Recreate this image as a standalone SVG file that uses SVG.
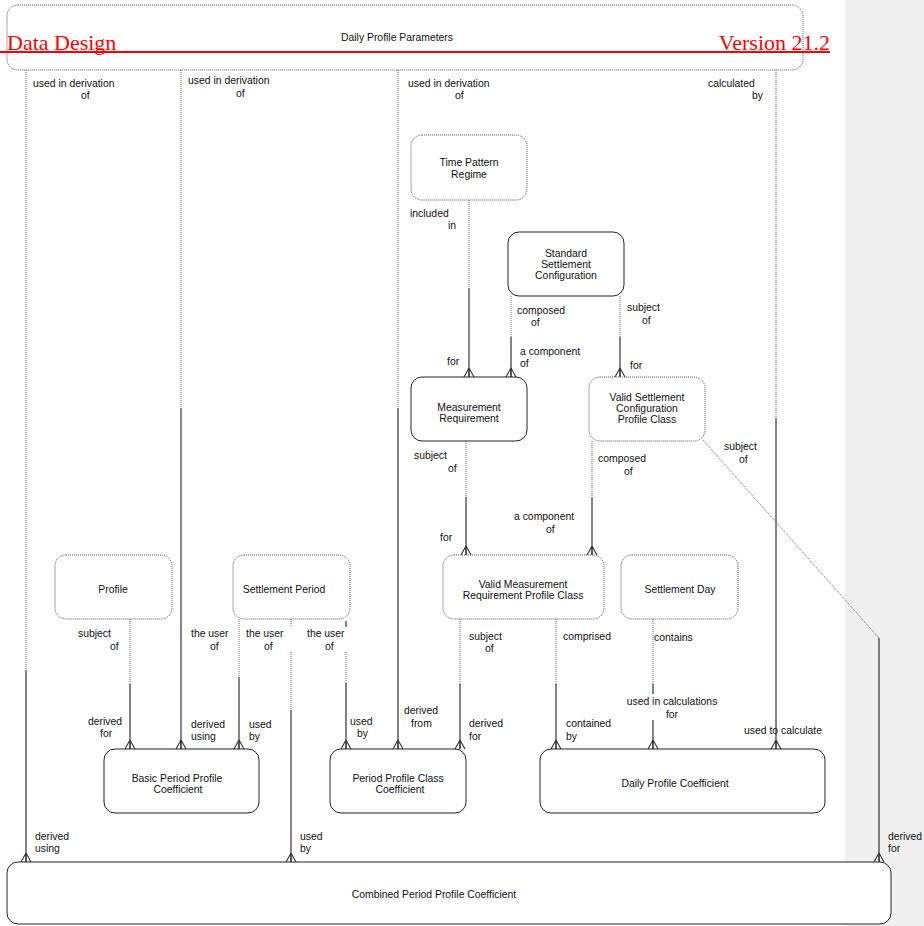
<svg xmlns="http://www.w3.org/2000/svg" width="924" height="926" viewBox="0 0 924 926">
<style>
text{font-family:"Liberation Sans",Arial,sans-serif;font-size:10.4px;fill:#111}
.c{text-anchor:middle}
.box{fill:#fff;stroke:#222;stroke-width:1}
.opt{fill:#fff;stroke:#555;stroke-width:1;stroke-dasharray:1 1}
.dot{fill:none;stroke:#666;stroke-width:1;stroke-dasharray:1 1}
.sol{fill:none;stroke:#333;stroke-width:1.2}
.hdr{font-family:"Liberation Serif","Times New Roman",serif;font-size:22px;fill:#f00}
</style>
<defs>
<marker id="crow" markerUnits="userSpaceOnUse" viewBox="-1 -7 12 14" markerWidth="12" markerHeight="14" refX="9" refY="0" orient="auto">
<path d="M0,0L9,-5M0,0L9,5M0,0L9,0" fill="none" stroke="#333" stroke-width="1.1"/>
</marker>
</defs>
<rect x="845" y="0" width="79" height="926" fill="#f0f0f0"/>

<g id="connectors">
<g id="c1"><path class="dot" d="M26,70V670"/><path class="sol" d="M26,670V862" marker-end="url(#crow)"/></g>
<g id="c2"><path class="dot" d="M181,70V408"/><path class="sol" d="M181,408V749" marker-end="url(#crow)"/></g>
<g id="c3"><path class="dot" d="M398,70V408"/><path class="sol" d="M398,408V749" marker-end="url(#crow)"/></g>
<g id="c4"><path class="dot" d="M776,70V418"/><path class="sol" d="M776,418V749" marker-end="url(#crow)"/></g>
<g id="c5"><path class="dot" d="M469,200V288"/><path class="sol" d="M469,288V377" marker-end="url(#crow)"/></g>
<g id="c6"><path class="dot" d="M511,296V337"/><path class="sol" d="M511,337V377" marker-end="url(#crow)"/></g>
<g id="c7"><path class="dot" d="M620,296V337"/><path class="sol" d="M620,337V377" marker-end="url(#crow)"/></g>
<g id="c8"><path class="dot" d="M466,441V497"/><path class="sol" d="M466,497V555" marker-end="url(#crow)"/></g>
<g id="c9"><path class="dot" d="M592,441V497"/><path class="sol" d="M592,497V555" marker-end="url(#crow)"/></g>
<g id="c10"><path class="dot" d="M703,440L879,638"/><path class="sol" d="M879,638V862" marker-end="url(#crow)"/></g>
<g id="c11"><path class="dot" d="M130,619V684"/><path class="sol" d="M130,684V749" marker-end="url(#crow)"/></g>
<g id="c12"><path class="dot" d="M239,619V677"/><path class="sol" d="M239,677V749" marker-end="url(#crow)"/></g>
<g id="c13"><path class="dot" d="M291,619V627M291,652V710"/><path class="sol" d="M291,710V862" marker-end="url(#crow)"/></g>
<g id="c14"><path class="sol" d="M346,621V627"/><path class="dot" d="M346,652V683"/><path class="sol" d="M346,683V749" marker-end="url(#crow)"/></g>
<g id="c15"><path class="dot" d="M460,619V684"/><path class="sol" d="M460,684V749" marker-end="url(#crow)"/></g>
<g id="c16"><path class="dot" d="M556,619V684"/><path class="sol" d="M556,684V749" marker-end="url(#crow)"/></g>
<g id="c17"><path class="dot" d="M653,619V684"/><path class="sol" d="M653,684V694M653,720V749" marker-end="url(#crow)"/></g>
</g>

<g id="labels">
<text x="33" y="87">used in derivation</text><text x="81" y="99">of</text>
<text x="188" y="84">used in derivation</text><text x="236" y="97">of</text>
<text x="408" y="87">used in derivation</text><text x="455" y="99">of</text>
<text x="708" y="87">calculated</text><text x="752" y="99">by</text>
<text x="410" y="217">included</text><text x="448" y="229">in</text>
<text x="517" y="314">composed</text><text x="531" y="326">of</text>
<text x="627" y="311">subject</text><text x="642" y="324">of</text>
<text x="520" y="355">a component</text><text x="520" y="367">of</text>
<text x="447" y="365">for</text>
<text x="630" y="369">for</text>
<text x="414" y="459">subject</text><text x="448" y="472">of</text>
<text x="598" y="462">composed</text><text x="624" y="475">of</text>
<text x="514" y="520">a component</text><text x="546" y="533">of</text>
<text x="440" y="541">for</text>
<text x="724" y="450">subject</text><text x="739" y="463">of</text>
<text x="78" y="637">subject</text><text x="110" y="650">of</text>
<text x="88" y="725">derived</text><text x="100" y="737">for</text>
<text x="191" y="637">the user</text><text x="210" y="650">of</text>
<text x="191" y="728">derived</text><text x="191" y="740">using</text>
<text x="246" y="637">the user</text><text x="264" y="650">of</text>
<text x="249" y="728">used</text><text x="249" y="740">by</text>
<text x="307" y="637">the user</text><text x="325" y="650">of</text>
<text x="350" y="725">used</text><text x="357" y="737">by</text>
<text x="404" y="714">derived</text><text x="411" y="727">from</text>
<text x="469" y="640">subject</text><text x="485" y="652">of</text>
<text x="469" y="727">derived</text><text x="469" y="740">for</text>
<text x="563" y="640">comprised</text>
<text x="566" y="727">contained</text><text x="566" y="740">by</text>
<text x="654" y="641">contains</text>
<text class="c" x="672" y="705">used in calculations</text><text class="c" x="672" y="718">for</text>
<text x="744" y="734">used to calculate</text>
<text x="35" y="840">derived</text><text x="35" y="852">using</text>
<text x="300" y="840">used</text><text x="300" y="852">by</text>
<text x="888" y="840">derived</text><text x="888" y="852">for</text>
</g>

<g id="dpp"><rect class="opt" x="7" y="5" width="796" height="65" rx="11"/><text class="c" x="397" y="41">Daily Profile Parameters</text></g>
<g id="tpr"><rect class="opt" x="411" y="135" width="116" height="65" rx="11"/><text class="c" x="469" y="166">Time Pattern</text><text class="c" x="469" y="178">Regime</text></g>
<g id="ssc"><rect class="box" x="508" y="232" width="116" height="64" rx="11"/><text class="c" x="566" y="257">Standard</text><text class="c" x="566" y="268">Settlement</text><text class="c" x="566" y="279">Configuration</text></g>
<g id="mr"><rect class="box" x="411" y="377" width="116" height="64" rx="11"/><text class="c" x="469" y="411">Measurement</text><text class="c" x="469" y="422">Requirement</text></g>
<g id="vscpc"><rect class="opt" x="589" y="377" width="116" height="64" rx="11"/><text class="c" x="647" y="401">Valid Settlement</text><text class="c" x="647" y="412">Configuration</text><text class="c" x="647" y="423">Profile Class</text></g>
<g id="profile"><rect class="opt" x="55" y="555" width="117" height="64" rx="11"/><text class="c" x="113" y="593">Profile</text></g>
<g id="sp"><rect class="opt" x="233" y="555" width="117" height="64" rx="11"/><text class="c" x="284" y="593">Settlement Period</text></g>
<g id="vmrpc"><rect class="opt" x="443" y="555" width="161" height="64" rx="11"/><text class="c" x="523" y="588">Valid Measurement</text><text class="c" x="523" y="599">Requirement Profile Class</text></g>
<g id="sd"><rect class="opt" x="621" y="555" width="117" height="64" rx="11"/><text class="c" x="680" y="593">Settlement Day</text></g>
<g id="bppc"><rect class="box" x="104" y="749" width="155" height="64" rx="11"/><text class="c" x="177" y="782">Basic Period Profile</text><text class="c" x="178" y="793">Coefficient</text></g>
<g id="ppcc"><rect class="box" x="330" y="749" width="136" height="64" rx="11"/><text class="c" x="398" y="782">Period Profile Class</text><text class="c" x="400" y="793">Coefficient</text></g>
<g id="dpc"><rect class="box" x="540" y="749" width="285" height="64" rx="11"/><text class="c" x="675" y="787">Daily Profile Coefficient</text></g>
<g id="cppc"><rect class="box" x="7" y="862" width="884" height="62" rx="11"/><text class="c" x="434" y="898">Combined Period Profile Coefficient</text></g>

<g id="header">
<line x1="0" y1="52" x2="830" y2="52" stroke="#f00" stroke-width="2"/>
<text class="hdr" x="7" y="50">Data Design</text>
<text class="hdr" x="830" y="50" text-anchor="end">Version 21.2</text>
</g>
</svg>
